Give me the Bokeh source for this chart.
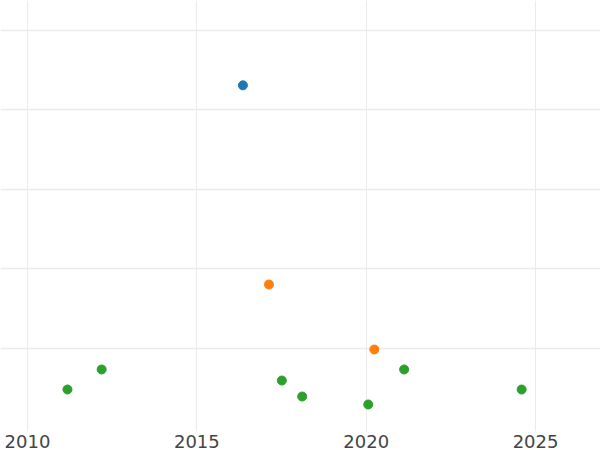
from bokeh.plotting import figure
from bokeh.models import Range1d, FixedTicker
from bokeh.embed import file_html
from bokeh.resources import INLINE

# Data
blue_x = [2016.36]
blue_y = [43.1]
orange_x = [2017.13, 2020.24]
orange_y = [18.05, 9.87]
green_x = [2011.18, 2012.19, 2017.51, 2018.11, 2020.06, 2021.12, 2024.59]
green_y = [4.84, 7.36, 5.97, 3.96, 2.96, 7.36, 4.84]

x_ticks = [2010, 2015, 2020, 2025]
y_ticks = [10, 20, 30, 40, 50]

p = figure(width=600, height=450, output_backend="svg", toolbar_location=None,
           x_range=Range1d(2009.203, 2026.918), y_range=Range1d(-0.44, 53.77),
           min_border=0, min_border_bottom=0)
p.outline_line_color = None
p.background_fill_color = "white"
p.border_fill_color = "white"

for xs, ys, c in [(green_x, green_y, "#2ca02c"), (orange_x, orange_y, "#ff7f0e"), (blue_x, blue_y, "#1f77b4")]:
    p.scatter(xs, ys, size=9, fill_color=c, line_color=c)

p.yaxis.visible = False
p.xaxis.ticker = FixedTicker(ticks=x_ticks)
p.yaxis.ticker = FixedTicker(ticks=y_ticks)
p.xaxis.axis_line_color = None
p.xaxis.major_tick_line_color = None
p.xaxis.minor_tick_line_color = None
p.xaxis.major_tick_out = 0
p.xaxis.major_tick_in = 0
p.xaxis.major_label_standoff = 3
p.xaxis.major_label_text_font = "DejaVu Sans"
p.xaxis.major_label_text_font_size = "18px"
p.xaxis.major_label_text_color = "#444444"

p.xgrid.grid_line_color = "#ebebeb"
p.ygrid.grid_line_color = "#ebebeb"
p.xgrid.grid_line_width = 1
p.ygrid.grid_line_width = 1.5

open("out.html", "w").write(file_html(p, INLINE))
